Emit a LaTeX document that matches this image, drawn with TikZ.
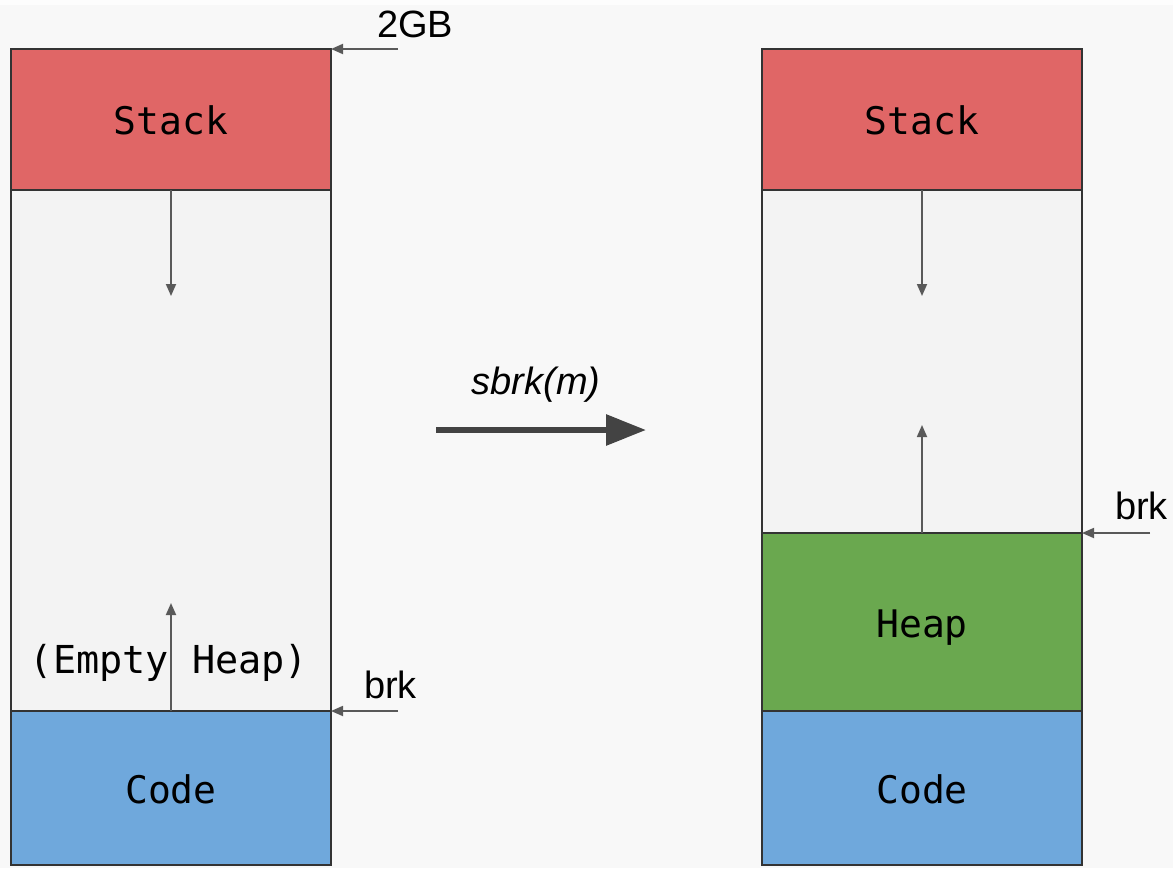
\documentclass[tikz,border=0pt]{standalone}
\usepackage{fontspec}
\setmainfont{Liberation Sans}
\setsansfont{Liberation Sans}
\setmonofont{DejaVu Sans Mono}
\usetikzlibrary{arrows.meta}
\definecolor{bgcol}{HTML}{F8F8F8}
\definecolor{topcol}{HTML}{FDFDFD}
\definecolor{stackred}{HTML}{E06666}
\definecolor{codeblue}{HTML}{6FA8DC}
\definecolor{heapgreen}{HTML}{6AA84F}
\definecolor{emptygray}{HTML}{F3F3F3}
\definecolor{edgecol}{HTML}{333333}
\definecolor{arrcol}{HTML}{595959}
\definecolor{bigarr}{HTML}{434343}
\tikzset{
  block/.style={draw=edgecol, line width=1.6pt, minimum width=320pt, inner sep=0pt, outer sep=0pt,
    text height=32pt, text depth=2pt,
    font=\ttfamily\fontsize{38}{40}\selectfont, text=black},
  thinarrow/.style={draw=arrcol, line width=1.8pt, -{Triangle[length=12pt,width=10pt]}},
  lbl/.style={font=\sffamily\fontsize{38}{40}\selectfont, inner sep=0pt, text=black}
}
\begin{document}
\begin{tikzpicture}[x=1pt,y=-1pt]
\useasboundingbox (0,0) rectangle (1173,868);
\fill[bgcol] (0,0) rectangle (1173,868);
\fill[topcol] (0,0) rectangle (1173,5);
% left column
\node[block, fill=emptygray, minimum height=521pt] (lempty) at (171,450.5) {};
\node[block, fill=stackred, minimum height=141pt] (lstack) at (171,119.5) {Stack};
\node[block, fill=codeblue, minimum height=154pt] (lcode) at (171,788) {Code};
\node[font=\ttfamily\fontsize{38.5}{40}\selectfont, inner sep=0pt, anchor=base] (lemptytxt) at (169,673) {(Empty Heap)};
% right column
\node[block, fill=emptygray, minimum height=343pt] (rempty) at (922,361.5) {};
\node[block, fill=stackred, minimum height=141pt] (rstack) at (922,119.5) {Stack};
\node[block, fill=heapgreen, minimum height=178pt] (rheap) at (922,622) {Heap};
\node[block, fill=codeblue, minimum height=154pt] (rcode) at (922,788) {Code};
% growth arrows
\coordinate (ldown) at (171,296);
\coordinate (lup) at (171,603);
\coordinate (rdown) at (922,296);
\coordinate (rup) at (922,425);
\draw[thinarrow] (lstack.south) -- (ldown);
\draw[thinarrow] (lcode.north) -- (lup);
\draw[thinarrow] (rstack.south) -- (rdown);
\draw[thinarrow] (rheap.north) -- (rup);
% labels
\node[lbl, anchor=base west] (gb) at (377,37) {2GB};
\node[lbl, anchor=base west] (lbrk) at (364,698) {brk};
\node[lbl, anchor=base west] (rbrk) at (1115,519) {brk};
\coordinate (gbs) at (398,49);
\coordinate (lbrks) at (398,711);
\coordinate (rbrks) at (1150,533);
\draw[thinarrow] (gbs) -- (lstack.north east);
\draw[thinarrow] (lbrks) -- (lcode.north east);
\draw[thinarrow] (rbrks) -- (rheap.north east);
% big arrow
\node[lbl, font=\sffamily\itshape\fontsize{38}{40}\selectfont, anchor=base] (sbrk) at (536,394) {sbrk(m)};
\coordinate (bigs) at (436,430);
\coordinate (bige) at (646,430);
\draw[draw=bigarr, line width=6pt, -{Triangle[length=40pt,width=30pt]}] (bigs) -- (bige);
\end{tikzpicture}
\end{document}
